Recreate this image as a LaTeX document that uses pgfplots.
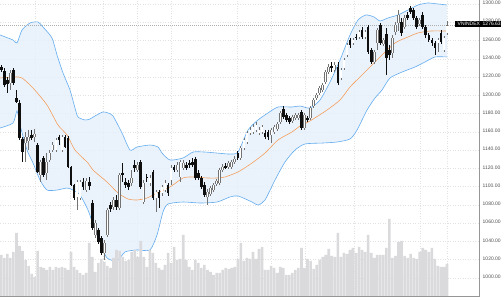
\documentclass[border=0pt]{standalone}
\usepackage{fontspec}
\setmainfont{Liberation Sans}
\usepackage{pgfplots}
\usepackage{pgfplotstable}
\usepgfplotslibrary{fillbetween}
\pgfplotsset{compat=1.18}

\definecolor{bandline}{RGB}{100,172,238}
\definecolor{bandfill}{RGB}{230,241,252}
\definecolor{maorange}{RGB}{245,158,92}
\definecolor{volgray}{RGB}{218,218,221}
\definecolor{gridgray}{RGB}{226,226,226}
\definecolor{axisgray}{RGB}{150,150,150}
\definecolor{labelgray}{RGB}{80,80,80}
\definecolor{hollowgray}{RGB}{115,115,115}
\definecolor{candleblack}{RGB}{15,15,15}
\definecolor{pricegray}{RGB}{175,175,175}

% i open high low close
\pgfplotstableread{
i o h l c
0 1231.0 1233.2 1225.5 1227.7
1 1226.6 1229.9 1209.1 1211.3
2 1216.8 1220.1 1202.6 1212.4
3 1213.5 1227.7 1205.8 1224.5
4 1227.7 1229.9 1211.3 1213.5
5 1197.1 1205.8 1191.6 1192.7
6 1191.6 1194.9 1151.1 1153.3
7 1152.2 1154.4 1127.0 1137.9
8 1147.8 1159.9 1127.0 1154.4
9 1150.0 1162.0 1140.1 1154.4
10 1156.6 1162.0 1151.1 1153.3
11 1154.4 1163.1 1148.9 1157.7
12 1145.6 1147.8 1115.0 1116.1
13 1112.8 1129.2 1105.1 1127.0
14 1131.4 1133.6 1110.6 1112.8
15 1115.0 1136.8 1107.3 1127.0
16 1129.2 1140.1 1127.0 1136.8
17 1140.1 1148.9 1137.9 1145.6
18 1140.1 1153.3 1137.9 1151.1
19 1154.4 1156.6 1145.6 1151.1
20 1140.1 1156.6 1137.9 1154.4
21 1154.4 1156.6 1142.3 1143.4
22 1153.3 1155.5 1120.4 1121.5
23 1121.5 1122.6 1100.7 1101.8
24 1101.8 1102.9 1085.4 1087.6
25 1088.7 1107.3 1074.4 1105.1
26 1087.6 1107.3 1085.4 1105.1
27 1105.1 1109.5 1096.3 1099.6
28 1096.3 1109.5 1094.2 1106.2
29 1105.1 1110.6 1096.3 1100.7
30 1082.1 1085.4 1052.5 1054.7
31 1047.1 1063.5 1043.8 1060.2
32 1052.5 1054.7 1037.2 1039.4
33 1043.8 1046.0 1025.2 1027.4
34 1027.4 1041.6 1019.7 1038.3
35 1047.1 1076.6 1044.9 1074.4
36 1079.9 1083.2 1072.3 1075.5
37 1077.7 1088.7 1074.4 1085.4
38 1085.4 1090.9 1074.4 1077.7
39 1076.6 1115.0 1074.4 1112.8
40 1115.0 1125.9 1105.1 1112.8
41 1105.1 1109.5 1098.5 1101.8
42 1104.0 1107.3 1096.3 1099.6
43 1104.0 1118.2 1100.7 1109.5
44 1123.7 1129.2 1116.1 1120.4
45 1118.2 1127.0 1116.1 1123.7
46 1127.0 1129.2 1097.4 1099.6
47 1083.2 1107.3 1081.0 1104.0
48 1110.6 1113.9 1105.1 1109.5
49 1104.0 1112.8 1100.7 1109.5
50 1116.1 1118.2 1085.4 1087.6
51 1087.6 1096.3 1072.3 1094.2
52 1094.2 1096.3 1076.6 1087.6
53 1093.1 1101.8 1089.8 1099.6
54 1096.3 1107.3 1094.2 1104.0
55 1101.8 1104.0 1089.8 1093.1
56 1107.3 1123.7 1101.8 1120.4
57 1121.5 1123.7 1116.1 1118.2
58 1118.2 1127.0 1116.1 1123.7
59 1110.6 1129.2 1105.1 1127.0
60 1120.4 1129.2 1118.2 1125.9
61 1123.7 1127.0 1118.2 1120.4
62 1125.9 1129.2 1120.4 1123.7
63 1127.0 1131.4 1121.5 1123.7
64 1130.3 1132.5 1107.3 1109.5
65 1115.0 1118.2 1107.3 1109.5
66 1109.5 1111.7 1097.4 1099.6
67 1101.8 1105.1 1088.7 1090.9
68 1088.7 1097.4 1079.9 1094.2
69 1092.0 1100.7 1089.8 1098.5
70 1096.3 1104.0 1094.2 1101.8
71 1102.9 1108.4 1100.7 1106.2
72 1104.0 1120.4 1101.8 1118.2
73 1118.2 1124.8 1116.1 1121.5
74 1122.6 1125.9 1119.3 1121.5
75 1121.5 1128.1 1119.3 1125.9
76 1121.5 1129.2 1119.3 1127.0
77 1127.0 1133.6 1124.8 1130.3
78 1136.8 1139.0 1129.2 1131.4
79 1131.4 1144.5 1129.2 1142.3
80 1142.3 1153.3 1140.1 1151.1
81 1148.9 1161.0 1146.7 1158.8
82 1158.8 1165.3 1156.6 1162.0
83 1159.9 1168.6 1157.7 1165.3
84 1162.0 1170.8 1159.9 1167.5
85 1158.8 1165.3 1156.6 1162.0
86 1159.9 1167.5 1157.7 1165.3
87 1158.8 1162.0 1152.2 1154.4
88 1159.9 1162.0 1151.1 1154.4
89 1156.6 1164.2 1147.8 1162.0
90 1159.9 1167.5 1157.7 1165.3
91 1163.1 1170.8 1161.0 1168.6
92 1170.8 1182.9 1168.6 1180.7
93 1185.0 1188.3 1174.1 1176.3
94 1178.5 1180.7 1170.8 1173.0
95 1175.2 1177.4 1168.6 1170.8
96 1171.9 1178.5 1169.7 1176.3
97 1175.2 1180.7 1173.0 1178.5
98 1175.2 1180.7 1173.0 1178.5
99 1181.8 1183.9 1162.0 1164.2
100 1164.2 1180.7 1162.0 1178.5
101 1175.2 1177.4 1170.8 1173.0
102 1175.2 1188.3 1173.0 1186.1
103 1188.3 1197.1 1186.1 1194.9
104 1197.1 1202.6 1194.9 1200.4
105 1202.6 1210.2 1200.4 1208.0
106 1205.8 1213.5 1203.7 1211.3
107 1214.6 1227.7 1212.4 1225.5
108 1225.5 1234.3 1223.4 1231.0
109 1232.1 1236.5 1225.5 1229.9
110 1227.7 1236.5 1225.5 1233.2
111 1231.0 1236.5 1211.3 1213.5
112 1219.0 1229.9 1216.8 1227.7
113 1229.9 1240.9 1227.7 1238.7
114 1244.2 1257.3 1242.0 1255.1
115 1260.6 1262.8 1251.8 1255.1
116 1257.3 1262.8 1255.1 1260.6
117 1263.9 1267.2 1260.6 1262.8
118 1263.9 1271.5 1261.7 1269.3
119 1271.5 1274.8 1261.7 1263.9
120 1263.9 1271.5 1261.7 1269.3
121 1274.8 1277.0 1245.3 1247.5
122 1249.6 1251.8 1234.3 1236.5
123 1236.5 1249.6 1234.3 1247.5
124 1257.3 1273.7 1249.6 1271.5
125 1277.0 1279.2 1255.1 1257.3
126 1256.2 1263.0 1254.0 1260.6
127 1267.2 1273.7 1222.3 1240.9
128 1249.6 1255.1 1238.7 1244.2
129 1246.4 1266.1 1240.9 1262.8
130 1269.3 1280.3 1266.1 1277.0
131 1279.2 1293.4 1270.0 1288.0
132 1280.3 1284.7 1265.3 1268.3
133 1274.8 1288.0 1272.6 1284.7
134 1288.0 1291.2 1282.5 1284.7
135 1295.6 1297.8 1289.0 1291.2
136 1293.4 1295.6 1282.5 1284.7
137 1284.7 1286.9 1272.6 1274.8
138 1278.1 1284.7 1276.0 1282.5
139 1288.0 1291.2 1272.6 1274.8
140 1274.8 1277.0 1263.2 1266.1
141 1266.1 1268.3 1258.4 1260.6
142 1260.6 1262.8 1254.0 1257.3
143 1257.3 1259.5 1244.2 1251.8
144 1257.3 1262.8 1247.5 1260.6
145 1268.3 1271.5 1256.2 1258.4
146 1249.6 1265.0 1247.5 1262.8
147 1268.3 1281.0 1266.1 1276.63
}\candles

\pgfplotstableread{
i v
0 41.7
1 38.7
2 42.7
3 38.7
4 44.7
5 63.7
6 50.7
7 45.7
8 36.7
9 30.7
10 22.7
11 19.7
12 45.7
13 29.7
14 28.7
15 26.7
16 29.7
17 26.7
18 29.7
19 28.7
20 29.7
21 28.7
22 26.7
23 44.7
24 29.7
25 26.7
26 23.7
27 21.7
28 23.7
29 53.7
30 39.7
31 24.7
32 33.7
33 37.7
34 34.7
35 30.7
36 28.7
37 38.7
38 46.7
39 45.7
40 39.7
41 35.7
42 36.7
43 44.7
44 46.7
45 39.7
46 55.7
47 39.7
48 29.7
49 46.7
50 43.7
51 33.7
52 28.7
53 26.7
54 31.7
55 43.7
56 33.7
57 49.7
58 36.7
59 37.7
60 61.7
61 36.7
62 29.7
63 26.7
64 36.7
65 33.7
66 28.7
67 31.7
68 26.7
69 24.7
70 21.7
71 23.7
72 23.7
73 26.7
74 28.7
75 27.7
76 28.7
77 29.7
78 37.7
79 53.7
80 35.7
81 38.7
82 37.7
83 44.7
84 37.7
85 47.7
86 49.7
87 26.7
88 26.7
89 30.7
90 28.7
91 23.7
92 29.7
93 28.7
94 21.7
95 21.7
96 23.7
97 26.7
98 28.7
99 48.7
100 28.7
101 37.7
102 35.7
103 27.7
104 31.7
105 36.7
106 39.7
107 41.7
108 47.7
109 40.7
110 39.7
111 63.7
112 39.7
113 43.7
114 42.7
115 46.7
116 48.7
117 43.7
118 49.7
119 46.7
120 44.7
121 61.7
122 43.7
123 38.7
124 41.7
125 41.7
126 41.7
127 48.7
128 77.7
129 38.7
130 40.7
131 54.7
132 55.7
133 40.7
134 38.7
135 42.7
136 38.7
137 37.7
138 44.7
139 48.7
140 46.7
141 44.7
142 48.7
143 37.7
144 30.7
145 29.7
146 29.7
147 32.7
}\volume

\pgfplotsset{
  base/.style={
    scale only axis, width=479pt, height=296.7pt,
    at={(0pt,3.3pt)}, anchor=south west,
    xmin=-0.429, xmax=157.55, ymin=979.52, ymax=1304.38,
    axis line style={draw=none}, major tick length=0pt,
  },
  wick/.style={draw=none, forget plot, mark=none,
    error bars/.cd, y dir=both, y explicit, error mark=none,
    error bar style={draw=#1, line width=0.7pt}},
  body/.style 2 args={draw=none, forget plot, mark=none,
    error bars/.cd, y dir=both, y explicit, error mark=none,
    error bar style={draw=#1, line width=#2}},
  up/.style={restrict expr to domain={\thisrow{c}-\thisrow{o}}{0:10000}},
  down/.style={restrict expr to domain={\thisrow{o}-\thisrow{c}}{0.0001:10000}},
}

\begin{document}
\begin{tikzpicture}

% background: grid and Bollinger band area
\begin{axis}[base,
  xtick={11.11,22.66,33.71,44.76,55.97,77.74,88.95,100.17,116.33,138.09,147.0},
  ytick={1000,1020,...,1300},
  xticklabels={}, yticklabels={},
  xmajorgrids, ymajorgrids,
  grid style={gridgray, line width=0.5pt, dash pattern=on 1pt off 1.5pt},
]
\addplot[name path=up, draw=none, smooth, tension=0.4, mark=none, forget plot] coordinates {
(-0.43,1266.1) (3.86,1260.6) (5.18,1257.3) (6.83,1271.5) (9.47,1279.2) (12.10,1280.3)
(13.75,1274.8) (16.72,1262.8) (18.37,1244.2) (20.35,1224.5) (22.66,1205.8) (24.31,1186.1)
(25.30,1176.3) (27.61,1173.0) (29.25,1174.1) (30.90,1177.4) (33.54,1181.8) (35.19,1180.7)
(36.84,1177.4) (39.81,1158.8) (42.45,1140.1) (44.76,1143.4) (49.04,1145.6) (51.68,1143.4)
(53.00,1136.8) (55.64,1129.2) (59.93,1131.4) (63.23,1137.9) (67.18,1137.9) (71.14,1136.8)
(75.43,1135.7) (78.07,1137.9) (81.37,1162.0) (84.66,1173.0) (87.96,1180.7) (91.26,1187.2)
(95.88,1187.2) (98.52,1188.3) (101.81,1186.1) (105.11,1194.9) (108.41,1214.6) (111.71,1238.7)
(115.01,1266.1) (117.65,1282.5) (120.29,1288.0) (122.92,1285.8) (124.90,1281.4) (127.54,1284.7)
(130.84,1288.0) (134.14,1293.4) (137.43,1298.9) (140.73,1301.1) (144.03,1300.0) (147.00,1298.9)
};
\addplot[name path=lo, draw=none, smooth, tension=0.4, mark=none, forget plot] coordinates {
(-0.43,1164.2) (3.86,1169.7) (5.18,1182.9) (6.17,1167.5) (8.48,1140.1) (10.46,1125.9)
(12.76,1107.3) (15.07,1096.3) (18.37,1096.3) (21.67,1098.5) (23.65,1096.3) (25.96,1090.9)
(28.59,1074.4) (30.90,1052.5) (33.21,1033.9) (34.86,1021.9) (38.16,1018.6) (40.80,1028.5)
(44.76,1030.7) (49.04,1030.7) (51.35,1047.1) (53.33,1072.3) (54.98,1081.0) (59.93,1083.2)
(65.53,1082.1) (71.14,1083.2) (75.43,1088.7) (78.07,1089.8) (82.69,1083.2) (84.66,1079.9)
(86.97,1085.4) (90.27,1107.3) (93.57,1127.0) (96.87,1140.1) (100.17,1146.7) (106.10,1147.8)
(110.72,1148.9) (115.01,1152.2) (117.32,1162.0) (120.62,1183.9) (123.25,1197.1) (125.56,1205.8)
(128.20,1219.0) (132.16,1225.5) (136.44,1231.0) (139.74,1236.5) (143.04,1242.0) (147.00,1242.0)
};
\addplot[fill=bandfill, fill opacity=0.85, draw=none, forget plot] fill between[of=up and lo];
\end{axis}

% band outlines and moving average
\begin{axis}[base, ticks=none]
\addplot[bandline, line width=0.6pt, smooth, tension=0.4, mark=none] coordinates {
(-0.43,1266.1) (3.86,1260.6) (5.18,1257.3) (6.83,1271.5) (9.47,1279.2) (12.10,1280.3)
(13.75,1274.8) (16.72,1262.8) (18.37,1244.2) (20.35,1224.5) (22.66,1205.8) (24.31,1186.1)
(25.30,1176.3) (27.61,1173.0) (29.25,1174.1) (30.90,1177.4) (33.54,1181.8) (35.19,1180.7)
(36.84,1177.4) (39.81,1158.8) (42.45,1140.1) (44.76,1143.4) (49.04,1145.6) (51.68,1143.4)
(53.00,1136.8) (55.64,1129.2) (59.93,1131.4) (63.23,1137.9) (67.18,1137.9) (71.14,1136.8)
(75.43,1135.7) (78.07,1137.9) (81.37,1162.0) (84.66,1173.0) (87.96,1180.7) (91.26,1187.2)
(95.88,1187.2) (98.52,1188.3) (101.81,1186.1) (105.11,1194.9) (108.41,1214.6) (111.71,1238.7)
(115.01,1266.1) (117.65,1282.5) (120.29,1288.0) (122.92,1285.8) (124.90,1281.4) (127.54,1284.7)
(130.84,1288.0) (134.14,1293.4) (137.43,1298.9) (140.73,1301.1) (144.03,1300.0) (147.00,1298.9)
};
\addplot[bandline, line width=0.6pt, smooth, tension=0.4, mark=none] coordinates {
(-0.43,1164.2) (3.86,1169.7) (5.18,1182.9) (6.17,1167.5) (8.48,1140.1) (10.46,1125.9)
(12.76,1107.3) (15.07,1096.3) (18.37,1096.3) (21.67,1098.5) (23.65,1096.3) (25.96,1090.9)
(28.59,1074.4) (30.90,1052.5) (33.21,1033.9) (34.86,1021.9) (38.16,1018.6) (40.80,1028.5)
(44.76,1030.7) (49.04,1030.7) (51.35,1047.1) (53.33,1072.3) (54.98,1081.0) (59.93,1083.2)
(65.53,1082.1) (71.14,1083.2) (75.43,1088.7) (78.07,1089.8) (82.69,1083.2) (84.66,1079.9)
(86.97,1085.4) (90.27,1107.3) (93.57,1127.0) (96.87,1140.1) (100.17,1146.7) (106.10,1147.8)
(110.72,1148.9) (115.01,1152.2) (117.32,1162.0) (120.62,1183.9) (123.25,1197.1) (125.56,1205.8)
(128.20,1219.0) (132.16,1225.5) (136.44,1231.0) (139.74,1236.5) (143.04,1242.0) (147.00,1242.0)
};
\addplot[maorange, line width=0.6pt, smooth, tension=0.4, mark=none] coordinates {
(-0.43,1219.0) (4.52,1220.1) (6.83,1219.0) (10.46,1208.0) (15.07,1189.4) (18.70,1167.5)
(21.67,1156.6) (24.31,1140.1) (28.59,1125.9) (30.24,1118.2) (34.86,1105.1) (38.49,1093.1)
(41.79,1086.5) (44.76,1085.4) (48.05,1087.6) (51.35,1093.1) (55.64,1099.6) (59.93,1109.5)
(63.23,1110.6) (67.84,1109.5) (71.14,1109.5) (73.78,1110.6) (78.07,1116.1) (82.69,1125.9)
(86.97,1136.8) (91.26,1151.1) (95.88,1159.9) (98.52,1166.4) (101.81,1171.9) (107.42,1183.9)
(111.71,1194.9) (115.01,1209.1) (118.31,1220.1) (121.61,1231.0) (124.90,1242.0) (129.85,1257.3)
(134.14,1263.9) (137.43,1268.3) (141.39,1270.4) (147.00,1270.4)
};
\addplot[pricegray, line width=0.5pt, dash pattern=on 1pt off 1pt, mark=none] coordinates {(-0.43,1276.63) (157.55,1276.63)};
\end{axis}

% volume
\begin{axis}[base, ymin=0, ymax=296.7, ticks=none]
\addplot[ybar, bar width=2.6pt, fill=volgray, draw=none] table[x=i, y=v] {\volume};
\end{axis}

% candles and price scale
\begin{axis}[base, xtick=\empty, ytick={1000,1020,...,1300},
  yticklabel pos=right,
  yticklabel style={font=\fontsize{5}{6}\selectfont, text=labelgray, anchor=west, inner sep=0pt, xshift=3.5pt, yshift=1pt},
  yticklabel={\pgfmathprintnumber[fixed, fixed zerofill, precision=2, 1000 sep={}, assume math mode=true]{\tick}},
]
% rising candles (hollow)
\addplot[up, wick=hollowgray]
  table[x=i, y expr={(\thisrow{h}+\thisrow{l})/2}, y error expr={(\thisrow{h}-\thisrow{l})/2}] {\candles};
\addplot[up, body={hollowgray}{2.6pt}]
  table[x=i, y expr={(\thisrow{o}+\thisrow{c})/2}, y error expr={abs(\thisrow{c}-\thisrow{o})/2+0.4}] {\candles};
\addplot[up, body={white}{1.3pt}]
  table[x=i, y expr={(\thisrow{o}+\thisrow{c})/2}, y error expr={max(abs(\thisrow{c}-\thisrow{o})/2-0.35,0)}] {\candles};
% falling candles (filled)
\addplot[down, wick=candleblack]
  table[x=i, y expr={(\thisrow{h}+\thisrow{l})/2}, y error expr={(\thisrow{h}-\thisrow{l})/2}] {\candles};
\addplot[down, body={candleblack}{2.6pt}]
  table[x=i, y expr={(\thisrow{o}+\thisrow{c})/2}, y error expr={max(abs(\thisrow{o}-\thisrow{c})/2,0.5)}] {\candles};
\end{axis}

\draw[axisgray, line width=0.6pt] (0pt,3.3pt) -- (479pt,3.3pt) -- (479pt,300pt);
\fill[black] (455pt,272.7pt) rectangle (501pt,279pt);
\node[text=white, font=\fontsize{5}{6}\selectfont, inner sep=0pt, anchor=west] at (457.5pt,275.85pt) {VNINDEX};
\node[text=white, font=\fontsize{5}{6}\selectfont, inner sep=0pt, anchor=west] at (482.5pt,275.85pt) {1276.63};
\pgfresetboundingbox
\path[use as bounding box] (0pt,0pt) rectangle (501pt,300pt);
\end{tikzpicture}
\end{document}
